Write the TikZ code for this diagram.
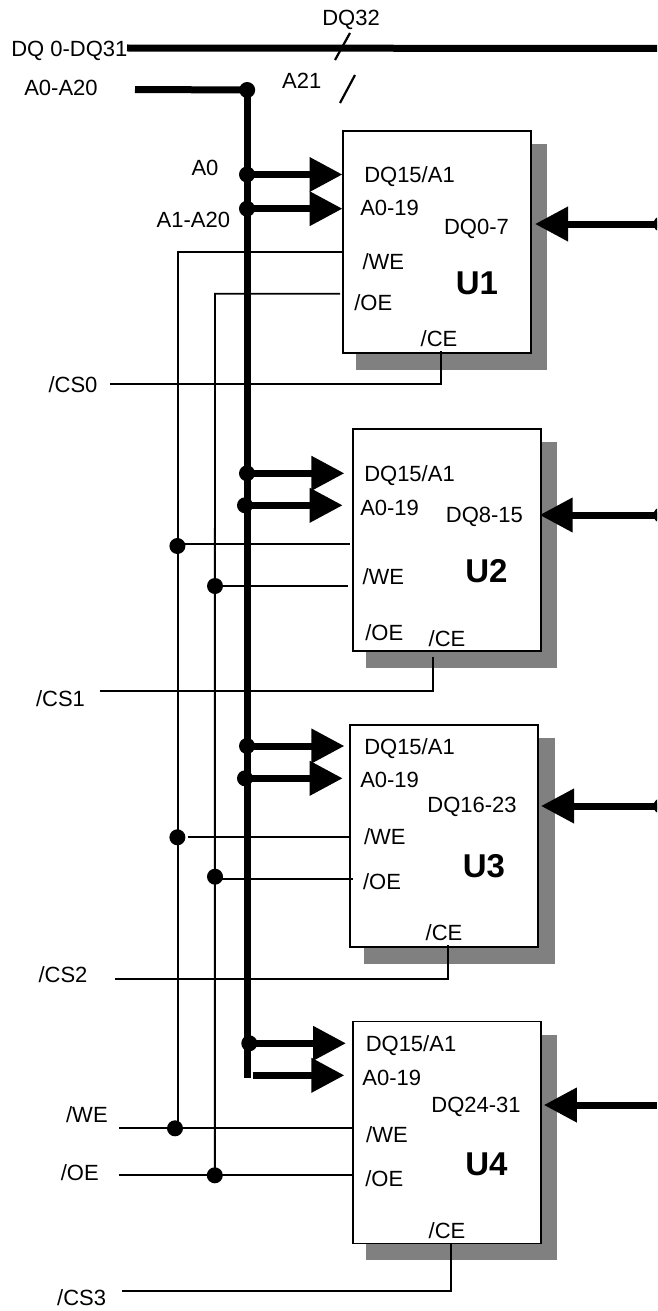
\documentclass[tikz,border=0pt]{standalone}
\usepackage{fontspec}
\setmainfont{Liberation Sans}
\usetikzlibrary{arrows.meta}
\definecolor{shadowgray}{RGB}{128,128,128}
\tikzset{
  lbl/.style={inner sep=0pt,text height=16pt,text depth=0pt,font=\fontsize{22}{24}\selectfont},
  ulbl/.style={inner sep=0pt,text height=24pt,text depth=0pt,font=\fontsize{33}{35}\selectfont\bfseries},
  chip/.style={draw=black,line width=1.9pt,fill=white,inner sep=0pt,outer sep=0pt,minimum width=188pt,minimum height=222pt},
  jdot/.style={circle,fill=black,inner sep=0pt,outer sep=0pt,minimum size=16pt},
  busline/.style={line width=7pt,draw=black},
  busarrow/.style={line width=7pt,draw=black,-{Triangle[length=33pt,width=33pt]}},
  sigline/.style={line width=1.9pt,draw=black},
  tick/.style={line width=2.2pt,draw=black},
}
\begin{document}
\begin{tikzpicture}[x=1pt,y=-1pt]
\path[use as bounding box] (0,0) rectangle (657,1311);
\clip (0,0) rectangle (657,1311);
\fill[white] (0,0) rectangle (657,1311);
% shadows
\fill[shadowgray] (356,144) rectangle (546.7,370);
\fill[shadowgray] (366,442) rectangle (556.7,668);
\fill[shadowgray] (364,738) rectangle (555,963.7);
\fill[shadowgray] (366,1035) rectangle (556.7,1259.7);
% chips
\node[chip] (u1) at (437,242) {};
\node[chip] (u2) at (447,540) {};
\node[chip] (u3) at (444.2,836.3) {};
\node[chip] (u4) at (447,1132.5) {};
% top bus
\coordinate (dqL) at (127,48);
\coordinate (dqR) at (657,48.5);
\draw[busline] (dqL) -- (dqR);
\coordinate (s1a) at (335,60); \coordinate (s1b) at (350,33);
\draw[tick] (s1a) -- (s1b);
\coordinate (s2a) at (340,103); \coordinate (s2b) at (355,75);
\draw[tick] (s2a) -- (s2b);
% address bus
\coordinate (aL) at (135,89.5);
\coordinate (busEnd) at (247.2,1077.7);
\node[jdot] (aJ) at (247.2,90) {};
\draw[busline] (aL) -- (aJ.center);
\draw[busline] (aJ.center) -- (busEnd);
% WE / OE verticals
\coordinate (weTop) at (177.6,252.3);
\coordinate (oeTop) at (215,293.7);
\coordinate (u1we) at (343,252.3);
\coordinate (u1oe) at (340,293.7);
\node[jdot] (we4) at (175,1128.3) {};
\node[jdot] (oe4) at (214.8,1175.3) {};
\coordinate (weBot) at (177.6,1128.3);
\draw[sigline] (u1we) -- (weTop) -- (weBot);
\draw[sigline] (u1oe) -- (oeTop) -- (oe4.center);
% U2 control
\node[jdot] (we2) at (177.4,546) {};
\node[jdot] (oe2) at (215,586) {};
\coordinate (u2we) at (350,543.7);
\coordinate (u2oe) at (347.7,586);
\draw[sigline] (we2.center |- u2we) -- (u2we);
\draw[sigline] (oe2.center) -- (u2oe);
% U3 control
\node[jdot] (we3) at (177.4,837.3) {};
\node[jdot] (oe3) at (215,876.7) {};
\coordinate (u3weS) at (187.7,837.3);
\coordinate (u3we) at (350,837.3);
\coordinate (u3oe) at (352.7,879.3);
\draw[sigline] (u3weS) -- (u3we);
\draw[sigline] (oe3.center |- u3oe) -- (u3oe);
% U4 control
\coordinate (weIn) at (119.4,1128.3);
\coordinate (oeIn) at (119.4,1175.3);
\coordinate (u4we) at (353,1128.3);
\coordinate (u4oe) at (353,1175.3);
\draw[sigline] (weIn) -- (u4we);
\draw[sigline] (oeIn) -- (u4oe);
% chip selects
\coordinate (cs0a) at (109.8,384); \coordinate (cs0b) at (440.7,384); \coordinate (cs0c) at (440.7,351);
\coordinate (cs1a) at (99.7,690.7); \coordinate (cs1b) at (433.2,690.7); \coordinate (cs1c) at (433.2,656.7);
\coordinate (cs2a) at (114.8,978.7); \coordinate (cs2b) at (448.3,978.7); \coordinate (cs2c) at (448.3,945);
\coordinate (cs3a) at (122.3,1290.7); \coordinate (cs3b) at (450.6,1290.7); \coordinate (cs3c) at (450.6,1244);
\draw[sigline] (cs0a) -- (cs0b) -- (cs0c);
\draw[sigline] (cs1a) -- (cs1b) -- (cs1c);
\draw[sigline] (cs2a) -- (cs2b) -- (cs2c);
\draw[sigline] (cs3a) -- (cs3b) -- (cs3c);
% address arrows
\node[jdot] (j1a) at (247,174.5) {};
\node[jdot] (j1b) at (247,208.7) {};
\node[jdot] (j2a) at (247,473.3) {};
\node[jdot] (j2b) at (245,505.3) {};
\node[jdot] (j3a) at (247,746) {};
\node[jdot] (j3b) at (245,778.3) {};
\node[jdot] (j4a) at (249.3,1043.3) {};
\coordinate (j4b) at (252.6,1075.3);
\coordinate (p1a) at (342.5,174.5); \coordinate (p1b) at (342.5,208.7);
\coordinate (p2a) at (344.4,473.3); \coordinate (p2b) at (342.7,505.3);
\coordinate (p3a) at (344.4,746); \coordinate (p3b) at (342.7,778.3);
\coordinate (p4a) at (346,1043.3); \coordinate (p4b) at (344.4,1075.3);
\draw[busarrow] (j1a.center) -- (p1a);
\draw[busarrow] (j1b.center) -- (p1b);
\draw[busarrow] (j2a.center) -- (p2a);
\draw[busarrow] (j2b.center) -- (p2b);
\draw[busarrow] (j3a.center) -- (p3a);
\draw[busarrow] (j3b.center) -- (p3b);
\draw[busarrow] (j4a.center) -- (p4a);
\draw[busarrow] (j4b) -- (p4b);
% data arrows
\node[jdot] (d1) at (661.5,224) {};
\node[jdot] (d2) at (661.5,515) {};
\node[jdot] (d3) at (661.5,806) {};
\coordinate (d4) at (657,1105);
\coordinate (q1) at (535,224); \coordinate (q2) at (539.6,515);
\coordinate (q3) at (541,806); \coordinate (q4) at (543.8,1105);
\draw[busarrow] (d1.center) -- (q1);
\draw[busarrow] (d2.center) -- (q2);
\draw[busarrow] (d3.center) -- (q3);
\draw[busarrow] (d4) -- (q4);
% outer labels
\node[lbl] (tdq32) at (351,18) {DQ32};
\node[lbl] (tdqbus) at (69.4,49) {DQ 0-DQ31};
\node[lbl] (ta020) at (61,88) {A0-A20};
\node[lbl] (ta21) at (301.8,80.7) {A21};
\node[lbl] (ta0) at (205,167.3) {A0};
\node[lbl] (ta120) at (193.3,219.3) {A1-A20};
\node[lbl] (tcs0) at (73,384.3) {/CS0};
\node[lbl] (tcs1) at (60.5,698) {/CS1};
\node[lbl] (tcs2) at (63,974.7) {/CS2};
\node[lbl] (tcs3) at (81.7,1297.7) {/CS3};
\node[lbl] (twe) at (86.9,1114) {/WE};
\node[lbl] (toe) at (79.8,1172.7) {/OE};
% U1 labels
\node[lbl] (a1) at (409.5,174) {DQ15/A1};
\node[lbl] (b1) at (389.6,207.3) {A0-19};
\node[lbl] (c1) at (476.5,226.7) {DQ0-7};
\node[lbl] (e1) at (383.3,261) {/WE};
\node[lbl] (f1) at (373.3,302.3) {/OE};
\node[ulbl] (n1) at (476.9,282.7) {U1};
\node[lbl] (g1) at (439,338.3) {/CE};
% U2 labels
\node[lbl] (a2) at (409.5,473.3) {DQ15/A1};
\node[lbl] (b2) at (389.6,507.3) {A0-19};
\node[lbl] (c2) at (484.4,514.3) {DQ8-15};
\node[lbl] (e2) at (383.3,576) {/WE};
\node[lbl] (f2) at (384.3,632.7) {/OE};
\node[ulbl] (n2) at (486.5,570) {U2};
\node[lbl] (g2) at (447,638.3) {/CE};
% U3 labels
\node[lbl] (a3) at (409.5,746) {DQ15/A1};
\node[lbl] (b3) at (389.6,779.3) {A0-19};
\node[lbl] (c3) at (472,804.3) {DQ16-23};
\node[lbl] (e3) at (384.8,836.3) {/WE};
\node[lbl] (f3) at (382,881) {/OE};
\node[ulbl] (n3) at (484,865) {U3};
\node[lbl] (g3) at (444,932.7) {/CE};
% U4 labels
\node[lbl] (a4) at (411,1043.3) {DQ15/A1};
\node[lbl] (b4) at (391.7,1077.3) {A0-19};
\node[lbl] (c4) at (476,1104.3) {DQ24-31};
\node[lbl] (e4) at (387,1134) {/WE};
\node[lbl] (f4) at (384.3,1178) {/OE};
\node[ulbl] (n4) at (486.5,1163.3) {U4};
\node[lbl] (g4) at (447,1230) {/CE};
\end{tikzpicture}
\end{document}
